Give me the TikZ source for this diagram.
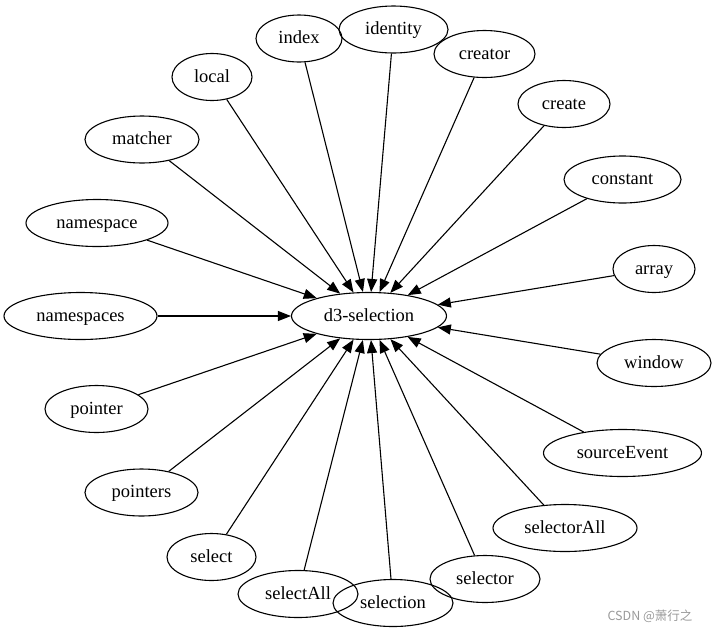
\documentclass[tikz,border=0pt]{standalone}
\usepackage{fontspec}
\setmainfont{Liberation Serif}
\newfontfamily\cjkfont{Noto Sans CJK SC}
\usetikzlibrary{shapes.geometric,arrows.meta}
\begin{document}
\begin{tikzpicture}[x=1pt,y=-1pt,
  nd/.style={ellipse,draw,line width=1.1pt,minimum height=47pt,inner sep=0pt,
             text height=12pt,text depth=2pt,
             font=\fontsize{18.5}{20}\selectfont},
  edge/.style={line width=1.1pt,-{Triangle[length=13pt,width=10pt]}}]
\useasboundingbox (0,0) rectangle (715,633);
\node[nd,minimum width=155pt] (c) at (369,316) {d3-selection};
\node[nd,minimum width=86pt]  (index) at (299,38.5) {index};
\node[nd,minimum width=109pt] (identity) at (393.5,29.5) {identity};
\node[nd,minimum width=101pt] (creator) at (484.5,54) {creator};
\node[nd,minimum width=80pt]  (local) at (212,77) {local};
\node[nd,minimum width=92pt]  (create) at (564,104) {create};
\node[nd,minimum width=114pt] (matcher) at (142,139.5) {matcher};
\node[nd,minimum width=117pt] (constant) at (622.5,179.5) {constant};
\node[nd,minimum width=142pt] (namespace) at (97,223) {namespace};
\node[nd,minimum width=82pt]  (array) at (654,269) {array};
\node[nd,minimum width=153pt] (namespaces) at (80.5,316) {namespaces};
\node[nd,minimum width=114pt] (window) at (654,363) {window};
\node[nd,minimum width=103pt] (pointer) at (96.5,409) {pointer};
\node[nd,minimum width=158pt] (sourceEvent) at (622.5,453) {sourceEvent};
\node[nd,minimum width=113pt] (pointers) at (141.5,492.5) {pointers};
\node[nd,minimum width=144pt] (selectorAll) at (565,528) {selectorAll};
\node[nd,minimum width=89pt]  (select) at (211.5,557) {select};
\node[nd,minimum width=120pt] (selectAll) at (298,594) {selectAll};
\node[nd,minimum width=120pt] (selection) at (393,603) {selection};
\node[nd,minimum width=110pt] (selector) at (485,579) {selector};
\foreach \n in {index,identity,creator,local,create,matcher,constant,namespace,array,namespaces,window,pointer,sourceEvent,pointers,selectorAll,select,selectAll,selection,selector}
  \draw[edge] (\n) -- (c);
\node[text=black!40,font=\cjkfont\fontsize{12.5}{14}\selectfont,inner sep=0pt] (wm) at (650,616) {CSDN @萧行之};
\end{tikzpicture}
\end{document}
